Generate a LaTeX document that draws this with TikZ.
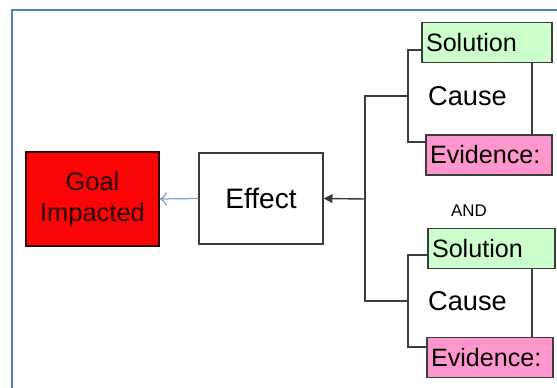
\documentclass[tikz,border=0pt]{standalone}
\usepackage{fontspec}
\setmainfont{Liberation Sans}
\usetikzlibrary{arrows.meta}

\definecolor{frameblue}{RGB}{79,129,189}
\definecolor{goalred}{RGB}{250,5,5}
\definecolor{solgreen}{RGB}{204,255,204}
\definecolor{evpink}{RGB}{255,150,204}
\definecolor{linegray}{RGB}{60,60,60}
\definecolor{softblue}{RGB}{130,160,205}

\tikzset{
  box/.style={draw=linegray, line width=0.8pt, rectangle},
  goalbox/.style={box, fill=goalred, draw=black!80!red, text=black!85!red, align=center,
    minimum width=2.66cm, minimum height=1.88cm, font=\fontsize{14.5}{17.6}\selectfont},
  effectbox/.style={box, fill=white, minimum width=2.48cm, minimum height=1.82cm,
    font=\fontsize{16}{18}\selectfont},
  causebox/.style={box, fill=white, minimum width=2.48cm, minimum height=1.84cm,
    font=\fontsize{15.5}{18}\selectfont},
  tagbox/.style={box, align=left, inner xsep=0.08cm, inner ysep=0pt, minimum height=0.8cm,
    font=\fontsize{14.3}{16}\selectfont},
  solbox/.style={tagbox, fill=solgreen},
  evbox/.style={tagbox, fill=evpink},
  link/.style={draw=linegray, line width=0.8pt}
}

\begin{document}
\begin{tikzpicture}[x=0.02cm, y=-0.02cm]
  \useasboundingbox (0,0) rectangle (557,388);
  \fill[white] (0,0) rectangle (557,388);
  \draw[frameblue, line width=1.2pt] (12,388) |- (557,10); % Frame

  % Goal and effect
  \node[goalbox] (goal) at (92.5,199) {Goal\\Impacted};
  \node[effectbox] (effect) at (261,198.5) {Effect};

  % Upper cause
  \node[causebox] (cause1) at (470,96) {\hspace*{-0.1cm}Cause};
  \node[solbox, text width=2.44cm] (sol1) at (487,42.5) {Solution};
  \node[evbox, text width=2.36cm] (ev1) at (489,155) {Evidence:};

  \node[font=\fontsize{9.6}{11}\selectfont] (and) at (469,211) {AND};

  % Lower cause
  \node[causebox] (cause2) at (470,301) {\hspace*{-0.1cm}Cause};
  \node[solbox, text width=2.38cm] (sol2) at (491.5,248.5) {Solution};
  \node[evbox, text width=2.36cm] (ev2) at (490,357.5) {Evidence:};

  % Connectors
  \coordinate (split) at (365,199);
  \draw[link] (cause1.west) -| (split) |- (cause2.west);
  \draw[link, -{Triangle[length=5pt, width=5pt]}] (split) -- (effect.east);
  \draw[softblue, line width=0.7pt, -{To[length=4pt, width=8pt]}] (effect.west) -- (goal.east);
\end{tikzpicture}
\end{document}
